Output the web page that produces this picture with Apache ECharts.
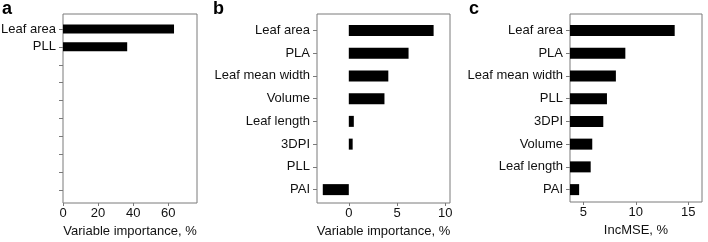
<!DOCTYPE html>
<html>
<head>
<meta charset="utf-8">
<script src="https://cdn.jsdelivr.net/npm/echarts/dist/echarts.min.js"></script>
<style>
  html, body { margin: 0; padding: 0; background: #fff; }
  #main { width: 708px; height: 242px; }
</style>
</head>
<body>
<div id="main"></div>
<script>
// panel a: only two variables kept, rest of rows are empty
var categoriesA = ['Leaf area', 'PLL', '', '', '', '', '', '', '', '']
var valuesA = [63.3, 36.6, null, null, null, null, null, null, null, null]
var ticksA = [0, 20, 40, 60]

// panel b
var categoriesB = ['Leaf area', 'PLA', 'Leaf mean width', 'Volume', 'Leaf length', '3DPI', 'PLL', 'PAI']
var valuesB = [8.8, 6.2, 4.1, 3.7, 0.52, 0.4, 0, -2.7]
var ticksB = [0, 5, 10]

// panel c
var categoriesC = ['Leaf area', 'PLA', 'Leaf mean width', 'PLL', '3DPI', 'Volume', 'Leaf length', 'PAI']
var valuesC = [13.7, 9.0, 8.1, 7.25, 6.9, 5.85, 5.7, 4.6]
var ticksC = [5, 10, 15]

var FONT = 'Liberation Sans, Arial, sans-serif'
var FRAME = '#7a7a7a'
var TEXT = '#111'

var option = {
  backgroundColor: '#fff',
  animation: false,
  textStyle: { fontFamily: FONT },
  title: [],
  grid: [],
  xAxis: [],
  yAxis: [],
  series: []
}

/**
 * one panel = frame grid (border only) + data grid slightly inset vertically
 */
function addPanel(p) {
  var g = option.grid.length
  // frame
  option.grid.push({
    left: p.left, top: p.top, width: p.width, height: p.height,
    show: true, borderColor: FRAME, borderWidth: 1,
    backgroundColor: 'transparent', containLabel: false, outerBoundsMode: 'none'
  })
  option.xAxis.push({ gridIndex: g, type: 'value', show: false })
  option.yAxis.push({ gridIndex: g, type: 'category', show: false, data: p.categories })

  // data
  option.grid.push({
    left: p.left, top: p.dataTop, width: p.width, height: p.dataHeight,
    show: false, containLabel: false, outerBoundsMode: 'none'
  })
  option.xAxis.push({
    gridIndex: g + 1,
    type: 'value',
    min: p.min,
    max: p.max,
    offset: p.top + p.height - p.dataTop - p.dataHeight,
    name: p.name,
    nameLocation: 'middle',
    nameGap: 20,
    nameTextStyle: { fontSize: 13, color: TEXT, fontFamily: FONT },
    axisLine: { show: false, onZero: false },
    axisTick: {
      show: true, inside: false, length: 3,
      customValues: p.ticks,
      lineStyle: { color: FRAME, width: 1 }
    },
    axisLabel: {
      customValues: p.ticks,
      margin: 4,
      fontSize: 13,
      color: TEXT,
      fontFamily: FONT
    },
    splitLine: { show: false }
  })
  option.yAxis.push({
    gridIndex: g + 1,
    type: 'category',
    inverse: true,
    position: 'left',
    data: p.categories,
    axisLine: { show: false, onZero: false },
    axisTick: {
      show: true, alignWithLabel: true, interval: 0, length: 4,
      lineStyle: { color: FRAME, width: 1 }
    },
    axisLabel: { interval: 0, margin: 7, fontSize: 13, color: TEXT, fontFamily: FONT },
    splitLine: { show: false }
  })
  option.series.push({
    type: 'bar',
    xAxisIndex: g + 1,
    yAxisIndex: g + 1,
    data: p.values,
    barWidth: p.barWidth,
    clip: true,
    itemStyle: { color: '#000' },
    silent: true
  })
  option.title.push({
    text: p.letter,
    left: p.letterLeft,
    top: 0,
    padding: 0,
    textStyle: { fontSize: 18, fontWeight: 'bold', color: '#000', fontFamily: FONT }
  })
}

addPanel({
  letter: 'a', letterLeft: 2,
  left: 63, top: 14, width: 134, height: 189,
  dataTop: 20, dataHeight: 179,
  categories: categoriesA, values: valuesA, ticks: ticksA,
  min: 0, max: 76.4, barWidth: 9,
  name: 'Variable importance, %'
})
addPanel({
  letter: 'b', letterLeft: 213,
  left: 317, top: 14, width: 133, height: 189,
  dataTop: 19, dataHeight: 182,
  categories: categoriesB, values: valuesB, ticks: ticksB,
  min: -3.3, max: 10.5, barWidth: 11,
  name: 'Variable importance, %'
})
addPanel({
  letter: 'c', letterLeft: 469,
  left: 570, top: 14, width: 132, height: 188,
  dataTop: 19, dataHeight: 182,
  categories: categoriesC, values: valuesC, ticks: ticksC,
  min: 3.73, max: 16.3, barWidth: 11,
  name: 'IncMSE, %'
})

var chartObj = echarts.init(document.getElementById('main'), null, { renderer: 'canvas' })
chartObj.setOption(option, true)
</script>
</body>
</html>
